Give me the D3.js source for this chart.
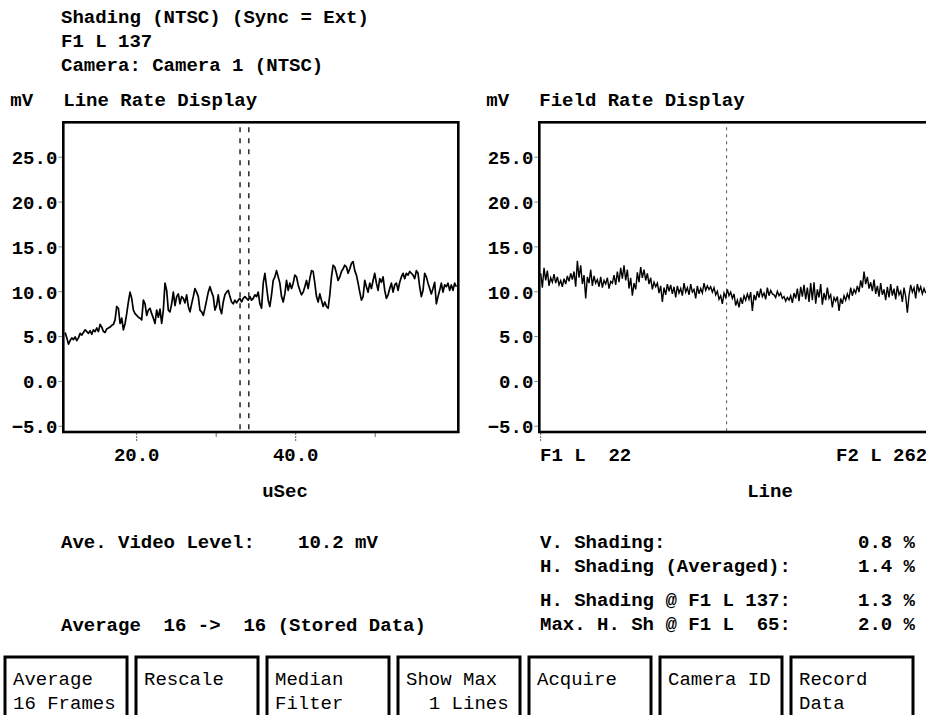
<!DOCTYPE html>
<html>
<head>
<meta charset="utf-8">
<script src="https://cdn.jsdelivr.net/npm/d3@7"></script>
<style>
  html, body { margin: 0; padding: 0; background: #fff; }
  svg { display: block; }
  text { font-family: "Liberation Mono", "Courier New", monospace; white-space: pre; fill: #000; }
  .b { font-weight: bold; font-size: 19px; }
  .btn { font-weight: normal; font-size: 19px; }
</style>
</head>
<body>
<script>
// ---- Header text ----
const headerLines = ["Shading (NTSC) (Sync = Ext)", "F1 L 137", "Camera: Camera 1 (NTSC)"];

// ---- Line rate display (mV against uSec), evenly sampled across lineSpan ----
const lineSpan = [11.0, 60.2];
const lineLevels = [
  5.4, 4.8, 4.1, 4.5, 4.8, 4.6, 4.9, 4.5, 4.8, 5.3,
  5.1, 5.4, 5.7, 5.5, 5.3, 5.6, 5.2, 5.7, 5.5, 5.9,
  5.5, 6.3, 6.0, 5.5, 5.4, 5.8, 5.9, 6.0, 6.2, 6.3,
  6.8, 8.3, 8.1, 6.4, 7.0, 5.7, 6.4, 7.5, 8.8, 9.9,
  9.2, 7.9, 7.5, 7.3, 7.1, 7.0, 6.8, 9.0, 8.6, 7.3,
  7.9, 8.1, 7.5, 7.0, 6.4, 7.9, 7.1, 8.0, 6.4, 7.9,
  10.9, 10.1, 7.9, 7.7, 8.6, 9.9, 8.4, 9.4, 9.7, 8.6,
  9.4, 9.2, 8.7, 9.6, 8.3, 7.7, 8.6, 9.4, 10.3, 9.9,
  9.4,
  7.9, 7.7, 7.3, 8.1, 9.0, 9.9, 10.5, 9.9, 9.4, 7.9,
  8.4, 9.6, 8.1, 7.5, 8.8, 9.6, 9.9, 10.1, 9.4, 8.8,
  8.6, 9.0, 8.7, 9.0, 9.2, 8.8, 9.2, 9.4, 9.2, 9.0,
  9.4, 9.0, 9.2, 9.6, 9.4, 9.9, 8.6, 8.1, 10.9, 12.0,
  10.5, 9.0, 8.3, 9.6, 11.2, 11.6, 12.3, 11.6, 10.9, 9.4,
  8.8, 9.7, 11.2, 10.1, 10.9, 10.3, 10.9, 11.8, 11.6, 10.7,
  10.1, 9.6, 9.9, 10.5, 11.2, 10.3, 11.4, 12.3, 12.2, 10.9,
  9.4, 8.8, 9.7, 9.0, 8.3, 8.8, 8.3, 8.1, 9.6, 11.6,
  12.9, 12.7, 12.0, 11.2, 11.6, 12.2, 12.5, 12.9, 12.7, 12.0,
  12.5, 13.1, 13.3, 12.3, 11.8, 10.9, 9.9, 9.0, 9.4, 11.2,
  10.5, 9.9, 10.9, 10.3, 11.2, 12.0, 10.9, 10.1, 11.4, 11.0,
  11.6, 10.1, 9.2, 9.6, 10.3, 10.9, 9.9, 10.7, 10.9, 10.1,
  11.0, 11.6, 12.0, 11.4, 12.0, 11.8, 12.2, 12.0, 11.8, 11.4,
  12.3, 12.0, 10.5, 9.4, 10.1, 12.0, 11.6, 10.9, 10.3, 9.7,
  10.3, 11.0, 8.6, 9.4, 10.1, 10.9, 9.9, 10.7, 10.5, 10.9,
  10.1, 10.7, 10.1, 10.9, 10.5
];
const lineTicksMajor = [20, 40];
const lineTicksMinor = [30, 50];
const lineCursors = [33.0, 34.1];
const lineDomain = [10.77, 60.45];

// ---- Field rate display (mV against line position), evenly sampled across fieldSpan ----
const fieldDomain = [0, 482];
const fieldSpan = [1.7, 470.3];
const fieldLevels = [
  12.0, 10.4, 12.6, 11.2, 12.3, 10.6, 11.5, 11.0, 11.9, 10.9,
  11.6, 10.7, 11.2, 10.5, 11.4, 10.8, 11.7, 11.1, 12.0, 11.3,
  12.2, 10.5, 13.4, 11.5, 12.9, 10.8, 11.8, 9.2, 11.6, 10.9,
  12.4, 10.6, 11.7, 10.9, 11.3, 10.5, 11.6, 10.4, 11.2, 10.8,
  11.5, 10.3, 11.1, 10.9, 11.8, 10.7, 12.2, 11.0, 12.6, 11.4,
  12.9, 11.2, 12.4, 10.3, 11.5, 9.5, 10.9, 10.2, 12.1, 11.0,
  12.7, 11.5, 12.4, 11.2, 12.0, 10.8, 11.5, 10.2, 11.0, 10.5,
  10.9, 9.8, 10.6, 8.8, 10.4, 9.6, 10.8, 10.0, 10.7, 9.7,
  10.5, 9.3, 10.6, 9.8, 10.3, 9.5, 10.9, 9.9, 10.4, 9.6,
  10.8, 9.9, 10.2, 9.2, 10.6, 9.7, 10.3, 9.8, 10.9, 10.1,
  10.6, 10.2, 10.5, 9.9, 10.4, 9.6, 10.0, 9.1, 9.5, 8.6,
  9.8, 9.3, 10.2, 9.5, 9.9, 9.2, 9.7, 8.4, 9.0, 8.2,
  9.3, 8.6, 9.5, 9.0, 9.7, 9.1, 9.9, 7.8, 9.6, 9.0,
  10.0, 9.3, 10.3, 9.4, 9.8, 9.1, 10.4, 9.5, 10.1, 9.7,
  9.6, 9.3, 10.0, 9.5, 9.8, 9.2, 9.4, 8.9, 9.3, 9.0,
  9.5, 8.7, 9.8, 9.2, 10.3, 8.9, 10.5, 9.4, 10.7, 9.1,
  10.4, 8.8, 10.9, 9.0, 11.0, 8.6, 10.2, 9.3, 10.8, 8.5,
  9.8, 9.0, 10.4, 9.2, 9.6, 8.2, 9.3, 8.9, 9.4, 7.8,
  9.2, 8.6, 9.5, 9.0, 9.7, 9.2, 10.4, 9.5, 10.2, 9.8,
  10.6, 9.9, 11.2, 10.4, 12.2, 10.8, 11.6, 10.3, 11.0, 10.0,
  11.3, 9.7, 10.6, 9.4, 10.9, 9.6, 10.2, 9.0, 10.5, 9.3,
  10.8, 9.5, 10.3, 9.1, 10.6, 9.6, 10.0, 8.8, 10.4, 9.4,
  7.6, 9.5, 10.7, 9.9, 10.4, 9.2, 10.8, 10.0, 10.5, 9.7,
  10.3, 9.8
];
const fieldCursor = 228;
const fieldLabels = ["F1 L  22", "F2 L 262"];

// ---- Shared level axis ----
const levelTicks = [-5, 0, 5, 10, 15, 20, 25];
const levelDomain = [-5.7, 28.84];

// ---- Readouts ----
const aveLevel = "10.2";
const averageLine = "Average  16 ->  16 (Stored Data)";
const shadingNames = ["V. Shading:", "H. Shading (Averaged):", "H. Shading @ F1 L 137:", "Max. H. Sh @ F1 L  65:"];
const shadingValues = [0.8, 1.4, 1.3, 2.0];

// ---- Soft keys ----
const buttonLabels = [
  ["Average", "16 Frames"], ["Rescale", ""], ["Median", "Filter"],
  ["Show Max", "  1 Lines"], ["Acquire", ""], ["Camera ID", ""], ["Record", "Data"]
];

const W = 926, H = 715;
const svg = d3.select("body").append("svg").attr("width", W).attr("height", H);

const plotTop = 122.3, plotBottom = 432;
const y = d3.scaleLinear().domain(levelDomain).range([plotBottom, plotTop]);

// header
svg.append("g").selectAll("text").data(headerLines).join("text")
  .attr("class", "b").attr("x", 61).attr("y", (d, i) => 23 + i * 24).text(d => d);

function panel(x0, x1, title, clipId) {
  const g = svg.append("g");
  g.append("text").attr("class", "b").attr("x", x0 - 53).attr("y", 106).text("mV");
  g.append("text").attr("class", "b").attr("x", x0).attr("y", 106).text(title);
  svg.append("clipPath").attr("id", clipId).append("rect")
    .attr("x", x0).attr("y", plotTop).attr("width", x1 - x0).attr("height", plotBottom - plotTop);
  const ax = g.append("g").attr("transform", `translate(${x0},0)`)
    .call(d3.axisLeft(y).tickValues(levelTicks).tickSize(5).tickPadding(1)
      .tickFormat(d3.format(".1f")));
  ax.attr("font-family", null).attr("font-size", null);
  ax.select(".domain").remove();
  ax.selectAll(".tick line").attr("stroke", "#888").attr("stroke-width", 1);
  ax.selectAll(".tick text").attr("class", "b").attr("dy", "0.36em");
  return g;
}

// ---- Line rate panel ----
const lx0 = 63.3, lx1 = 458.3;
const xLine = d3.scaleLinear().domain(lineDomain).range([lx0, lx1]);
const gL = panel(lx0, lx1, "Line Rate Display", "clipL");
const lineIdx = d3.scaleLinear().domain([0, lineLevels.length - 1]).range(lineSpan);

gL.selectAll(".cur").data(lineCursors).join("line")
  .attr("x1", d => xLine(d)).attr("x2", d => xLine(d))
  .attr("y1", plotTop + 5).attr("y2", plotBottom)
  .attr("stroke", "#333").attr("stroke-width", 1.6).attr("stroke-dasharray", "5,6");

gL.append("path").datum(lineLevels)
  .attr("clip-path", "url(#clipL)")
  .attr("fill", "none").attr("stroke", "#000").attr("stroke-width", 1.7)
  .attr("stroke-linejoin", "round")
  .attr("d", d3.line().x((d, i) => xLine(lineIdx(i))).y(d => y(d)));

gL.selectAll(".maj").data(lineTicksMajor).join("line")
  .attr("x1", d => xLine(d)).attr("x2", d => xLine(d))
  .attr("y1", plotBottom + 1).attr("y2", plotBottom + 9)
  .attr("stroke", "#666").attr("stroke-dasharray", "2,1");
gL.selectAll(".min").data(lineTicksMinor).join("line")
  .attr("x1", d => xLine(d)).attr("x2", d => xLine(d))
  .attr("y1", plotBottom + 1).attr("y2", plotBottom + 5)
  .attr("stroke", "#666");
gL.selectAll(".xl").data(lineTicksMajor).join("text")
  .attr("class", "b").attr("text-anchor", "middle")
  .attr("x", d => xLine(d)).attr("y", 461).text(d => d3.format(".1f")(d));
gL.append("text").attr("class", "b").attr("text-anchor", "middle")
  .attr("x", 285).attr("y", 497).text("uSec");
gL.append("rect").attr("x", lx0).attr("y", plotTop).attr("width", lx1 - lx0).attr("height", plotBottom - plotTop)
  .attr("fill", "none").attr("stroke", "#000").attr("stroke-width", 2.6);

// ---- Field rate panel ----
const fx0 = 539.3, fx1 = 935.3;
const xField = d3.scaleLinear().domain(fieldDomain).range([fx0, fx1]);
const gF = panel(fx0, fx1, "Field Rate Display", "clipF");
const fieldIdx = d3.scaleLinear().domain([0, fieldLevels.length - 1]).range(fieldSpan);

gF.append("line")
  .attr("x1", xField(fieldCursor)).attr("x2", xField(fieldCursor))
  .attr("y1", plotTop + 5).attr("y2", plotBottom)
  .attr("stroke", "#555").attr("stroke-width", 1).attr("stroke-dasharray", "3,4");

gF.append("path").datum(fieldLevels)
  .attr("clip-path", "url(#clipF)")
  .attr("fill", "none").attr("stroke", "#000").attr("stroke-width", 1.4)
  .attr("d", d3.line().x((d, i) => xField(fieldIdx(i))).y(d => y(d)));

gF.append("line")
  .attr("x1", xField(fieldDomain[0]) + 1.4).attr("x2", xField(fieldDomain[0]) + 1.4)
  .attr("y1", plotBottom + 1).attr("y2", plotBottom + 9)
  .attr("stroke", "#666").attr("stroke-dasharray", "2,1");
gF.append("text").attr("class", "b").attr("x", 540).attr("y", 461).text(fieldLabels[0]);
gF.append("text").attr("class", "b").attr("x", 836).attr("y", 461).text(fieldLabels[1]);
gF.append("text").attr("class", "b").attr("text-anchor", "middle")
  .attr("x", 770).attr("y", 497).text("Line");
gF.append("rect").attr("x", fx0).attr("y", plotTop).attr("width", fx1 - fx0).attr("height", plotBottom - plotTop)
  .attr("fill", "none").attr("stroke", "#000").attr("stroke-width", 2.6);

// ---- Readouts ----
svg.append("text").attr("class", "b").attr("x", 61).attr("y", 548).text("Ave. Video Level:");
svg.append("text").attr("class", "b").attr("x", 298).attr("y", 548).text(aveLevel + " mV");
svg.append("text").attr("class", "b").attr("x", 61).attr("y", 631).text(averageLine);

const rowY = [548, 572, 606, 630];
svg.append("g").selectAll("text").data(shadingNames).join("text")
  .attr("class", "b").attr("x", 540).attr("y", (d, i) => rowY[i]).text(d => d);
svg.append("g").selectAll("text").data(shadingValues).join("text")
  .attr("class", "b").attr("x", 858).attr("y", (d, i) => rowY[i]).text(d => d.toFixed(1) + " %");

// ---- Soft keys ----
const keys = svg.append("g").selectAll("g").data(buttonLabels).join("g")
  .attr("transform", (d, i) => `translate(${5 + i * 131},657)`);
keys.append("rect").attr("width", 122).attr("height", 80)
  .attr("fill", "none").attr("stroke", "#000").attr("stroke-width", 3);
keys.append("text").attr("class", "btn").attr("x", 8).attr("y", 28).text(d => d[0]);
keys.append("text").attr("class", "btn").attr("x", 8).attr("y", 52).text(d => d[1]);
</script>
</body>
</html>
